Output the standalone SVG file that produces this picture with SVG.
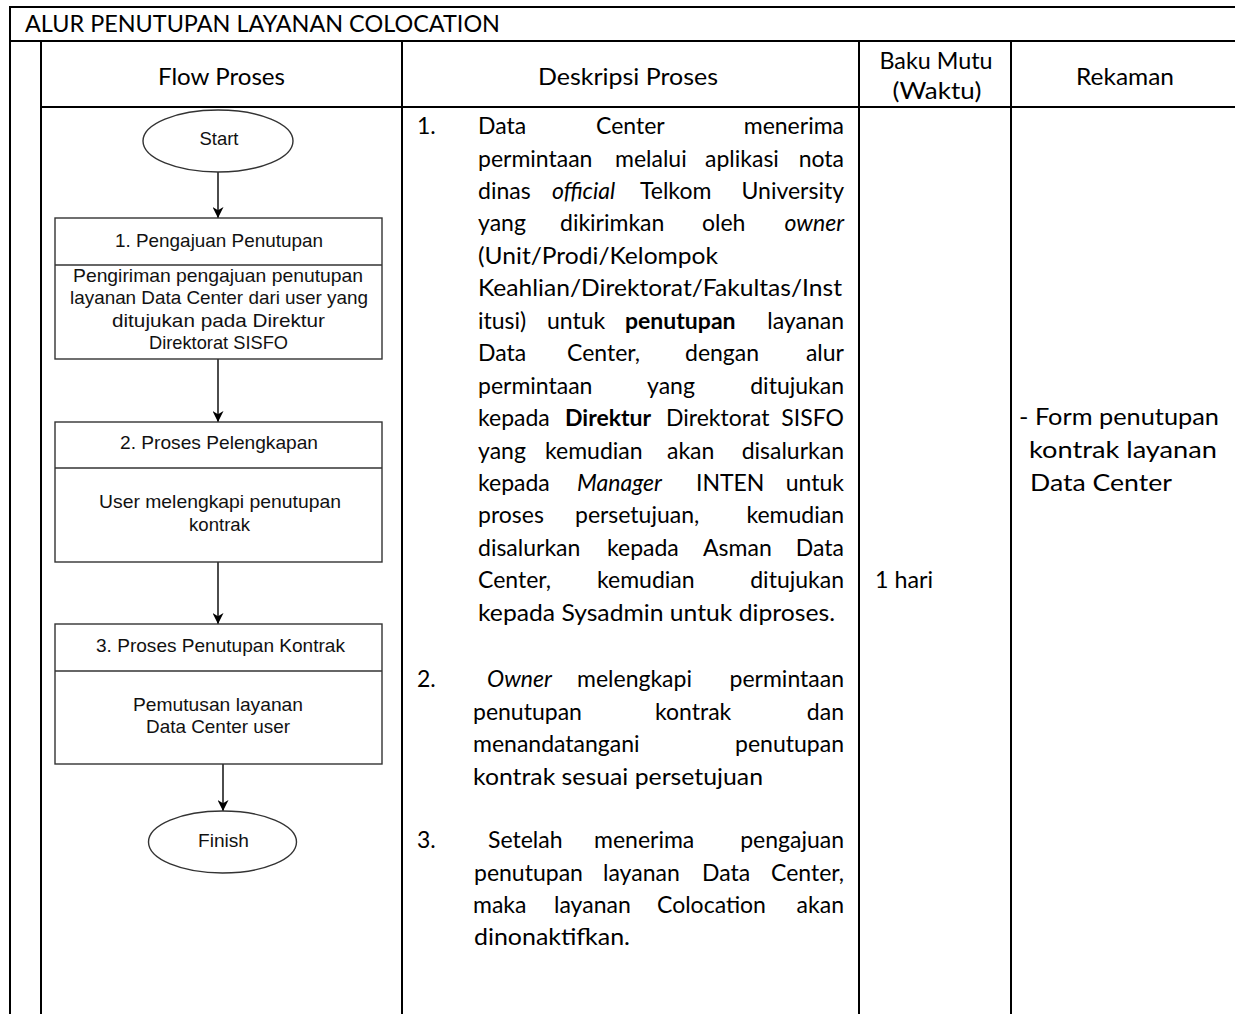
<svg xmlns="http://www.w3.org/2000/svg" width="1235" height="1014" viewBox="0 0 1235 1014">
<defs>
<marker id="arr" viewBox="0 0 10 10" refX="10" refY="5" markerWidth="11" markerHeight="11" markerUnits="userSpaceOnUse" orient="auto">
<path d="M0,0 L10,5 L0,10 L3,5 z" fill="#000"/>
</marker>
<style>
.grid{stroke:#000;stroke-width:2;fill:none}
.box{fill:#fff;stroke:#333;stroke-width:1.4}
.conn{stroke:#000;stroke-width:1.4;fill:none;marker-end:url(#arr)}
.fc{font-family:"Liberation Sans",Arial,sans-serif;font-size:18.6px;fill:#111;text-anchor:middle}
.t{font-family:Lato,"Open Sans",sans-serif;font-size:23px;fill:#000}
.c{text-anchor:middle}
.e{text-anchor:end}
.i{font-style:italic}
.b{font-weight:bold}
</style>
</defs>
<rect width="1235" height="1014" fill="#fff"/>

<g id="table">
<line class="grid" x1="10" y1="7" x2="1235" y2="7"/>
<line class="grid" x1="10" y1="41" x2="1235" y2="41"/>
<line class="grid" x1="41" y1="107" x2="1235" y2="107"/>
<line class="grid" x1="10" y1="6" x2="10" y2="1014"/>
<line class="grid" x1="41" y1="41" x2="41" y2="1014"/>
<line class="grid" x1="402" y1="41" x2="402" y2="1014"/>
<line class="grid" x1="859" y1="41" x2="859" y2="1014"/>
<line class="grid" x1="1011" y1="41" x2="1011" y2="1014"/>
<text class="t" x="25" y="32" textLength="475" lengthAdjust="spacingAndGlyphs">ALUR PENUTUPAN LAYANAN COLOCATION</text>
<text class="t c" x="221.5" y="85" textLength="127" lengthAdjust="spacingAndGlyphs">Flow Proses</text>
<text class="t c" x="628" y="85" textLength="180" lengthAdjust="spacingAndGlyphs">Deskripsi Proses</text>
<text class="t c" x="936" y="69" textLength="113" lengthAdjust="spacingAndGlyphs">Baku Mutu</text>
<text class="t c" x="937" y="99" textLength="89" lengthAdjust="spacingAndGlyphs">(Waktu)</text>
<text class="t c" x="1125" y="85" textLength="98" lengthAdjust="spacingAndGlyphs">Rekaman</text>
</g>

<g id="connectors">
<line class="conn" x1="218" y1="172" x2="218" y2="218"/>
<line class="conn" x1="218" y1="359" x2="218" y2="422"/>
<line class="conn" x1="218" y1="562" x2="218" y2="624"/>
<line class="conn" x1="223" y1="764" x2="223" y2="811"/>
</g>

<g id="start">
<ellipse class="box" cx="218" cy="141" rx="75" ry="31"/>
<text class="fc" x="219" y="145" textLength="39" lengthAdjust="spacingAndGlyphs">Start</text>
</g>

<g id="step1">
<rect class="box" x="55" y="218" width="327" height="141"/>
<line class="box" x1="55" y1="265" x2="382" y2="265"/>
<text class="fc" x="219" y="247" textLength="208" lengthAdjust="spacingAndGlyphs">1. Pengajuan Penutupan</text>
<text class="fc" x="218" y="282" textLength="290" lengthAdjust="spacingAndGlyphs">Pengiriman pengajuan penutupan</text>
<text class="fc" x="219" y="304" textLength="298" lengthAdjust="spacingAndGlyphs">layanan Data Center dari user yang</text>
<text class="fc" x="218.5" y="327" textLength="213" lengthAdjust="spacingAndGlyphs">ditujukan pada Direktur</text>
<text class="fc" x="218.5" y="349" textLength="139" lengthAdjust="spacingAndGlyphs">Direktorat SISFO</text>
</g>

<g id="step2">
<rect class="box" x="55" y="422" width="327" height="140"/>
<line class="box" x1="55" y1="468" x2="382" y2="468"/>
<text class="fc" x="219" y="449" textLength="198" lengthAdjust="spacingAndGlyphs">2. Proses Pelengkapan</text>
<text class="fc" x="220" y="508" textLength="242" lengthAdjust="spacingAndGlyphs">User melengkapi penutupan</text>
<text class="fc" x="219.5" y="531" textLength="61" lengthAdjust="spacingAndGlyphs">kontrak</text>
</g>

<g id="step3">
<rect class="box" x="55" y="624" width="327" height="140"/>
<line class="box" x1="55" y1="671" x2="382" y2="671"/>
<text class="fc" x="220.5" y="652" textLength="249" lengthAdjust="spacingAndGlyphs">3. Proses Penutupan Kontrak</text>
<text class="fc" x="218" y="711" textLength="170" lengthAdjust="spacingAndGlyphs">Pemutusan layanan</text>
<text class="fc" x="218" y="733" textLength="144" lengthAdjust="spacingAndGlyphs">Data Center user</text>
</g>

<g id="finish">
<ellipse class="box" cx="222.5" cy="842" rx="74" ry="31"/>
<text class="fc" x="223.5" y="847" textLength="51" lengthAdjust="spacingAndGlyphs">Finish</text>
</g>

<g id="deskripsi">
<text class="t" x="417" y="134">1.</text>
<text class="t" x="478" y="134">Data</text>
<text class="t" x="596" y="134">Center</text>
<text class="t e" x="844" y="134">menerima</text>
<text class="t" x="478" y="166.5">permintaan</text>
<text class="t" x="615" y="166.5">melalui</text>
<text class="t" x="705" y="166.5">aplikasi</text>
<text class="t e" x="844" y="166.5">nota</text>
<text class="t" x="478" y="199">dinas</text>
<text class="t i" x="552" y="199">official</text>
<text class="t" x="640" y="199">Telkom</text>
<text class="t e" x="844" y="199">University</text>
<text class="t" x="478" y="231.4">yang</text>
<text class="t" x="560" y="231.4">dikirimkan</text>
<text class="t" x="702" y="231.4">oleh</text>
<text class="t i e" x="844" y="231.4">owner</text>
<text class="t" x="478" y="263.8" textLength="240" lengthAdjust="spacingAndGlyphs">(Unit/Prodi/Kelompok</text>
<text class="t" x="478" y="296.3" textLength="364" lengthAdjust="spacingAndGlyphs">Keahlian/Direktorat/Fakultas/Inst</text>
<text class="t" x="478" y="328.7">itusi)</text>
<text class="t" x="547" y="328.7">untuk</text>
<text class="t b" x="625" y="328.7">penutupan</text>
<text class="t e" x="844" y="328.7">layanan</text>
<text class="t" x="478" y="361.2">Data</text>
<text class="t" x="567" y="361.2">Center,</text>
<text class="t" x="685" y="361.2">dengan</text>
<text class="t e" x="844" y="361.2">alur</text>
<text class="t" x="478" y="393.6">permintaan</text>
<text class="t" x="647" y="393.6">yang</text>
<text class="t e" x="844" y="393.6">ditujukan</text>
<text class="t" x="478" y="426">kepada</text>
<text class="t b" x="565" y="426">Direktur</text>
<text class="t" x="666" y="426">Direktorat</text>
<text class="t e" x="844" y="426">SISFO</text>
<text class="t" x="478" y="458.5">yang</text>
<text class="t" x="545" y="458.5">kemudian</text>
<text class="t" x="667" y="458.5">akan</text>
<text class="t e" x="844" y="458.5">disalurkan</text>
<text class="t" x="478" y="491">kepada</text>
<text class="t i" x="577" y="491">Manager</text>
<text class="t" x="696" y="491">INTEN</text>
<text class="t e" x="844" y="491">untuk</text>
<text class="t" x="478" y="523.4">proses</text>
<text class="t" x="575" y="523.4">persetujuan,</text>
<text class="t e" x="844" y="523.4">kemudian</text>
<text class="t" x="478" y="555.8">disalurkan</text>
<text class="t" x="607" y="555.8">kepada</text>
<text class="t" x="703" y="555.8">Asman</text>
<text class="t e" x="844" y="555.8">Data</text>
<text class="t" x="478" y="588.3">Center,</text>
<text class="t" x="597" y="588.3">kemudian</text>
<text class="t e" x="844" y="588.3">ditujukan</text>
<text class="t" x="478" y="620.7" textLength="357" lengthAdjust="spacingAndGlyphs">kepada Sysadmin untuk diproses.</text>

<text class="t" x="417" y="687">2.</text>
<text class="t i" x="487" y="687">Owner</text>
<text class="t" x="577" y="687">melengkapi</text>
<text class="t e" x="844" y="687">permintaan</text>
<text class="t" x="473" y="719.5">penutupan</text>
<text class="t" x="655" y="719.5">kontrak</text>
<text class="t e" x="844" y="719.5">dan</text>
<text class="t" x="473" y="752">menandatangani</text>
<text class="t e" x="844" y="752">penutupan</text>
<text class="t" x="473" y="784.5" textLength="290" lengthAdjust="spacingAndGlyphs">kontrak sesuai persetujuan</text>

<text class="t" x="417" y="848">3.</text>
<text class="t" x="488" y="848">Setelah</text>
<text class="t" x="594" y="848">menerima</text>
<text class="t e" x="844" y="848">pengajuan</text>
<text class="t" x="474" y="881">penutupan</text>
<text class="t" x="603" y="881">layanan</text>
<text class="t" x="702" y="881">Data</text>
<text class="t e" x="844" y="881">Center,</text>
<text class="t" x="473" y="913">maka</text>
<text class="t" x="554" y="913">layanan</text>
<text class="t" x="657" y="913">Colocation</text>
<text class="t e" x="844" y="913">akan</text>
<text class="t" x="474" y="945" textLength="156" lengthAdjust="spacingAndGlyphs">dinonaktifkan.</text>
</g>

<g id="waktu">
<text class="t" x="875" y="588.3" textLength="58" lengthAdjust="spacingAndGlyphs">1 hari</text>
</g>

<g id="rekaman">
<text class="t" x="1019" y="425" textLength="200" lengthAdjust="spacingAndGlyphs">- Form penutupan</text>
<text class="t" x="1029" y="458" textLength="188" lengthAdjust="spacingAndGlyphs">kontrak layanan</text>
<text class="t" x="1030" y="491" textLength="142" lengthAdjust="spacingAndGlyphs">Data Center</text>
</g>
</svg>
